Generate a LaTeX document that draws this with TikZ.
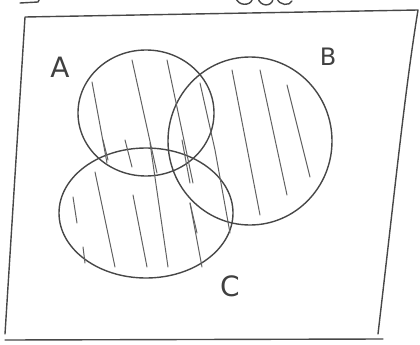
\documentclass[tikz,border=0pt]{standalone}
\usepackage{fontspec}
\setsansfont{DejaVu Sans}
\begin{document}
\begin{tikzpicture}[x=1pt,y=-1pt,
  ink/.style={draw=black!72, line width=1.4pt, line cap=round, line join=round},
  hatch/.style={draw=black!62, line width=1pt, line cap=round},
  lab/.style={font=\fontsize{28}{28}\selectfont\sffamily, text=black!75, inner sep=0pt}]
\useasboundingbox (0,0) rectangle (420,345);
% clipped title fragments
\draw[ink] (20,3) -- (38,2) -- (40,-2);
\draw[ink] (236,-2) .. controls (238,6) and (250,6) .. (252,0);
\draw[ink] (258,-2) .. controls (260,7) and (272,7) .. (273,-1);
\draw[ink] (277,-2) .. controls (279,6) and (290,6) .. (292,1);
% frame
\draw[ink] (5,334) -- (25,17) -- (418,10) .. controls (405,90) and (396,180) .. (378,334);
\draw[ink] (5,340) -- (383,339);
% sets
\draw[ink] (146,113) ellipse [x radius=68, y radius=63];
\draw[ink] (250,141) ellipse [x radius=82, y radius=84];
\draw[ink] (146,213) ellipse [x radius=87, y radius=65];
% labels
\node[lab] (A) at (60,67) {A};
\node[lab, font=\fontsize{24}{24}\selectfont\sffamily] (B) at (328,57) {B};
\node[lab] (C) at (230,286) {C};
% hatching
\draw[hatch] (92,82) -- (107,163);
\draw[hatch] (103,140) -- (108,160);
\draw[hatch] (132,60) -- (157,173);
\draw[hatch] (167,60) -- (193,183);
\draw[hatch] (125,140) -- (132,167);
\draw[hatch] (200,83) -- (215,150) -- (230,233);
\draw[hatch] (232,70) -- (260,215);
\draw[hatch] (260,70) -- (287,195);
\draw[hatch] (287,85) -- (310,177);
\draw[hatch] (190,203) -- (197,233);
\draw[hatch] (73,197) -- (77,223);
\draw[hatch] (83,247) -- (85,263);
\draw[hatch] (95,172) -- (115,267);
\draw[hatch] (133,195) -- (147,267);
\draw[hatch] (150,143) -- (168,267);
\draw[hatch] (190,203) -- (202,267);
\draw[hatch] (182,140) -- (190,183);
\end{tikzpicture}
\end{document}
